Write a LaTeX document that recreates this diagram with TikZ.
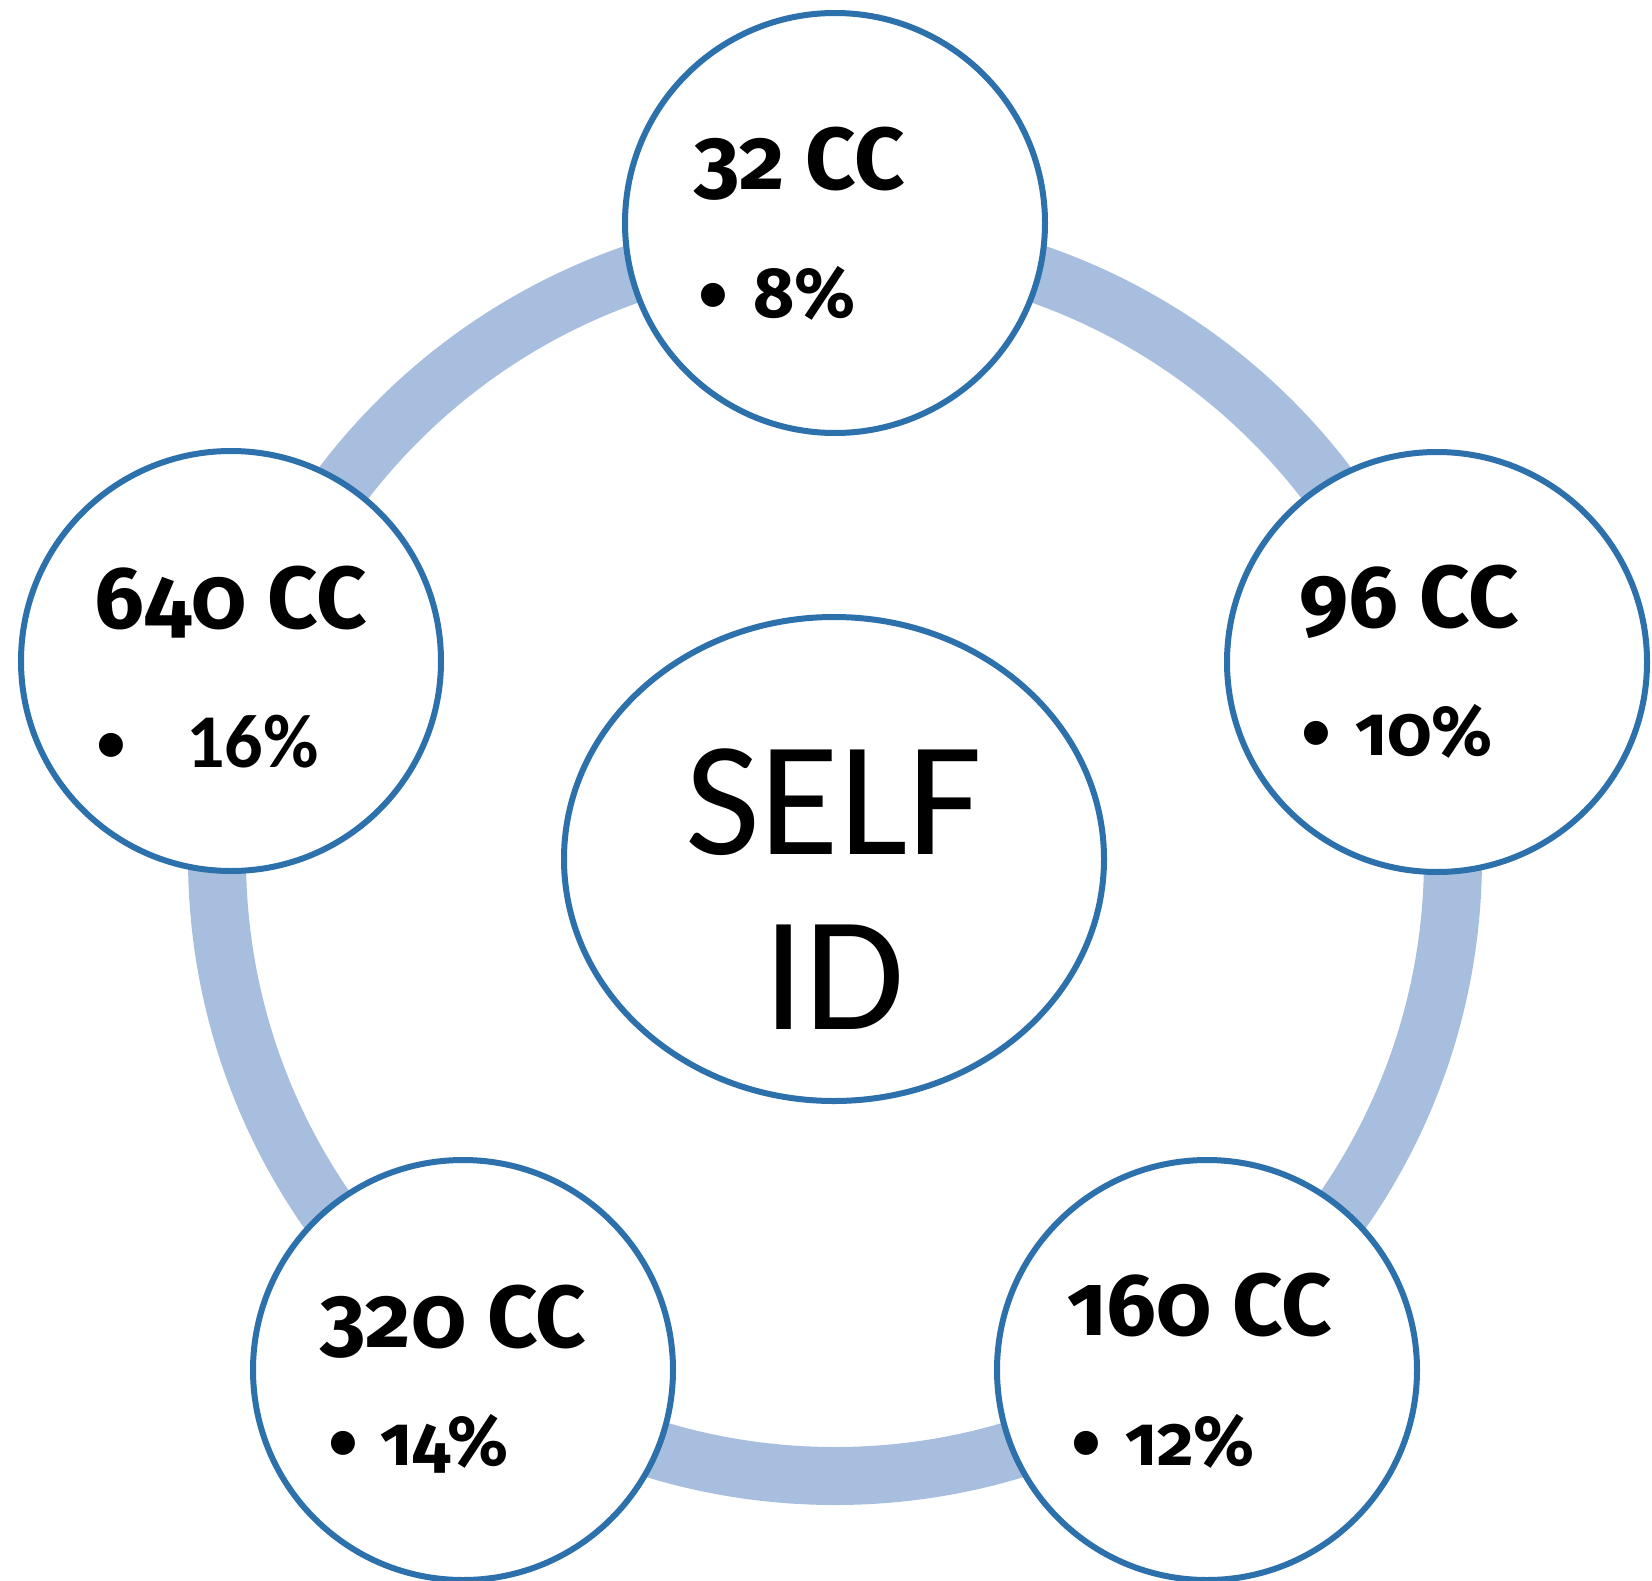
\documentclass[tikz,border=0pt]{standalone}
\usepackage{fontspec}
\setmainfont{Carlito}
\newfontfamily\headfont{Fira Sans}[Numbers=OldStyle]
\usetikzlibrary{shapes.geometric}
\definecolor{bordercol}{RGB}{44,112,172}
\definecolor{ringcol}{RGB}{168,190,222}
\newcommand{\smbul}{\raisebox{3pt}{\fontsize{68}{68}\selectfont\normalfont •}}
\tikzset{
  ringline/.style={draw=ringcol, line width=58pt},
  outercirc/.style={circle, draw=bordercol, fill=white, line width=6pt, minimum size=420pt, inner sep=0pt},
  hubell/.style={ellipse, draw=bordercol, fill=white, line width=6pt, minimum width=540pt, minimum height=484pt, inner sep=0pt},
  headtxt/.style={anchor=base west, inner sep=0pt, font=\headfont\fontsize{88}{88}\selectfont\bfseries},
  pcttxt/.style={anchor=base west, inner sep=0pt, font=\headfont\fontsize{71}{71}\selectfont\bfseries},
  selftxt/.style={anchor=base, inner sep=0pt, font=\fontsize{163}{163}\selectfont}
}
\begin{document}
\begin{tikzpicture}[x=1pt,y=-1pt]
\useasboundingbox[fill=white] (0,0) rectangle (1652,1581);
\coordinate (hub) at (835,858);
\draw[ringline] (hub) circle[radius=618pt];
\node[hubell] (self) at (834,859) {};
\node[outercirc] (c32) at (835,223) {};
\node[outercirc] (c96) at (1437,662) {};
\node[outercirc] (c160) at (1207,1370) {};
\node[outercirc] (c320) at (463,1370) {};
\node[outercirc] (c640) at (231,661) {};
% center text
\node[selftxt] (tself) at (834,854) {SELF};
\node[selftxt] (tid) at (834,1029) {ID};
% top
\node[headtxt] (h32) at (694,190) {32 CC};
\node[pcttxt] (p32) at (696,317) {\makebox[57pt][l]{\smbul}8\%};
% right
\node[headtxt] (h96) at (1299,627) {96 CC};
\node[pcttxt] (p96) at (1299,755) {\makebox[56pt][l]{\smbul}10\%};
% bottom right
\node[headtxt] (h160) at (1067,1335) {160 CC};
\node[pcttxt] (p160) at (1069,1465) {\makebox[56pt][l]{\smbul}12\%};
% bottom left
\node[headtxt] (h320) at (320,1347) {320 CC};
\node[pcttxt] (p320) at (326,1465) {\makebox[54pt][l]{\smbul}14\%};
% left
\node[headtxt] (h640) at (94,628) {640 CC};
\node[pcttxt] (p640) at (94,767) {\makebox[92pt][l]{\smbul}{\normalfont\fontsize{76}{76}\selectfont\bfseries 16\%}};
\end{tikzpicture}
\end{document}
